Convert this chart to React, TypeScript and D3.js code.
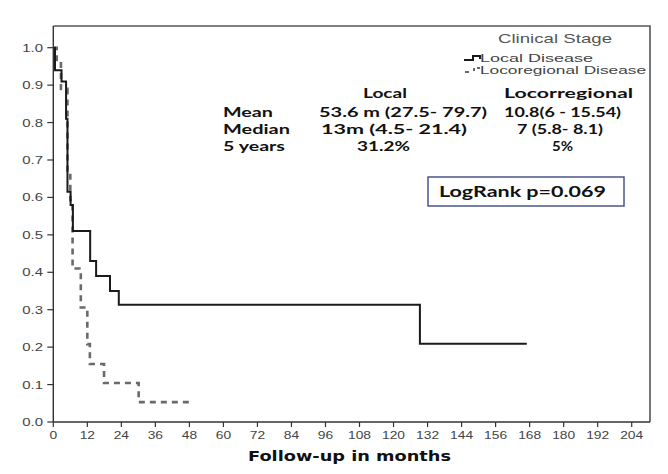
import React from "react";
import * as d3 from "d3";

// Kaplan-Meier curves (months, survival)
const localTimes = [0, 0.6, 2.9, 4.5, 5.0, 6.1, 6.9, 13.0, 15.1, 20.0, 23.1, 129.3, 167];
const localSurv = [1.0, 0.94, 0.91, 0.81, 0.615, 0.58, 0.51, 0.43, 0.39, 0.35, 0.313, 0.209, 0.209];
const locoTimes = [0, 1.2, 2.7, 5.0, 6.0, 6.8, 9.2, 9.7, 12.0, 12.9, 17.9, 30.1, 49.2];
const locoSurv = [1.0, 0.958, 0.89, 0.665, 0.593, 0.41, 0.4, 0.306, 0.208, 0.155, 0.104, 0.053, 0.053];

const xTicks = d3.range(0, 205, 12);
const yTicks = d3.range(0, 11).map((i) => i / 10);

const legendTitle = "Clinical Stage";
const seriesNames = ["Local Disease", "Locoregional Disease"];
const statHeaders = ["Local", "Locorregional"];
const statRows = ["Mean", "Median", "5 years"];
const statLocal = ["53.6 m (27.5- 79.7)", "13m (4.5- 21.4)", "31.2%"];
const statLoco = ["10.8(6 - 15.54)", "7 (5.8- 8.1)", "5%"];
const logRankText = "LogRank p=0.069";
const xTitle = "Follow-up in months";

const W = 668;
const H = 474;
const x = d3.scaleLinear().domain([0, 204]).range([53.3, 631.7]);
const y = d3.scaleLinear().domain([0, 1]).range([422, 47.7]);

type P = [number, number];
const line = d3
  .line<P>()
  .x((d) => x(d[0]))
  .y((d) => y(d[1]))
  .curve(d3.curveStepAfter);

const localPts: P[] = localTimes.map((t, i) => [t, localSurv[i]]);
const locoPts: P[] = locoTimes.map((t, i) => [t, locoSurv[i]]);

const statFont = "Lato, 'Open Sans', sans-serif";
const axFont = "'Liberation Sans', Arial, sans-serif";

export default function App() {
  const frameRight = 650;
  const frameTop = 26;
  const x0 = x(0);
  const yb = y(0);
  const rowY = [117, 134, 151];
  const localCol = [
    { x: 319, w: 168 },
    { x: 321, w: 146 },
    { x: 357, w: 53 },
  ];
  const locoCol = [
    { x: 504, w: 117 },
    { x: 517, w: 86 },
    { x: 552, w: 21 },
  ];
  const rowW = [50, 67, 62];
  return (
    <svg
      width={W}
      height={H}
      style={{ position: "absolute", left: 0, top: 0, background: "#fff" }}
    >
      <rect x={0} y={0} width={W} height={H} fill="#fff" />
      <path
        d={`M${x0},${frameTop}H${frameRight}V${yb}`}
        fill="none"
        stroke="#555"
        strokeWidth={1.6}
      />
      <line x1={x0} x2={x0} y1={frameTop} y2={yb} stroke="#333" strokeWidth={1.4} />
      <line x1={x0} x2={frameRight} y1={yb} y2={yb} stroke="#333" strokeWidth={1.4} />
      {yTicks.map((t) => (
        <g key={"y" + t}>
          <line x1={x0 - 6} x2={x0} y1={y(t)} y2={y(t)} stroke="#333" strokeWidth={1.2} />
          <text
            x={43}
            y={y(t) + 4}
            textAnchor="end"
            fontFamily={axFont}
            fontSize={11.5}
            fill="#444"
            transform="translate(43,0) scale(1.3,1) translate(-43,0)"
          >
            {t.toFixed(1)}
          </text>
        </g>
      ))}
      {xTicks.map((t) => (
        <g key={"x" + t}>
          <line x1={x(t)} x2={x(t)} y1={yb} y2={yb + 5} stroke="#333" strokeWidth={1.2} />
          <text
            x={x(t)}
            y={439.5}
            textAnchor="middle"
            fontFamily={axFont}
            fontSize={11.5}
            fill="#444"
            transform={`translate(${x(t)},0) scale(1.2,1) translate(${-x(t)},0)`}
          >
            {t}
          </text>
        </g>
      ))}
      <text
        x={248}
        y={461}
        fontFamily="'DejaVu Sans', Verdana, sans-serif"
        fontWeight="bold"
        fontSize={14}
        fill="#111"
        textLength={203}
        lengthAdjust="spacingAndGlyphs"
      >
        {xTitle}
      </text>

      <path
        d={line(locoPts) || ""}
        fill="none"
        stroke="#6a6a6a"
        strokeWidth={2.6}
        strokeDasharray="6,5"
      />
      <path d={line(localPts) || ""} fill="none" stroke="#1a1a1a" strokeWidth={2} />

      <text
        x={498}
        y={43}
        fontFamily={axFont}
        fontSize={13.5}
        fill="#555"
        textLength={114}
        lengthAdjust="spacingAndGlyphs"
      >
        {legendTitle}
      </text>
      <path d="M464,60H473V56H480V59" fill="none" stroke="#1a1a1a" strokeWidth={2} />
      <path d="M465,72H469M474,68V71M477,68H480" fill="none" stroke="#6a6a6a" strokeWidth={2} />
      <text
        x={480}
        y={62}
        fontFamily={axFont}
        fontSize={11.5}
        fill="#444"
        textLength={113}
        lengthAdjust="spacingAndGlyphs"
      >
        {seriesNames[0]}
      </text>
      <text
        x={480}
        y={74}
        fontFamily={axFont}
        fontSize={11.5}
        fill="#444"
        textLength={166}
        lengthAdjust="spacingAndGlyphs"
      >
        {seriesNames[1]}
      </text>

      <text x={363} y={98} fontFamily={statFont} fontWeight="bold" fontSize={14} fill="#111"
        textLength={44} lengthAdjust="spacingAndGlyphs">{statHeaders[0]}</text>
      <text x={504} y={98} fontFamily={statFont} fontWeight="bold" fontSize={14} fill="#111"
        textLength={129} lengthAdjust="spacingAndGlyphs">{statHeaders[1]}</text>
      {statRows.map((r, i) => (
        <g key={r}>
          <text x={223} y={rowY[i]} fontFamily={statFont} fontWeight="bold" fontSize={14} fill="#111"
            textLength={rowW[i]} lengthAdjust="spacingAndGlyphs">{r}</text>
          <text x={localCol[i].x} y={rowY[i]} fontFamily={statFont} fontWeight="bold" fontSize={14} fill="#111"
            textLength={localCol[i].w} lengthAdjust="spacingAndGlyphs">{statLocal[i]}</text>
          <text x={locoCol[i].x} y={rowY[i]} fontFamily={statFont} fontWeight="bold" fontSize={14} fill="#111"
            textLength={locoCol[i].w} lengthAdjust="spacingAndGlyphs">{statLoco[i]}</text>
        </g>
      ))}

      <rect x={428} y={177} width={196} height={29} fill="#fff" stroke="#4a5688" strokeWidth={1.5} />
      <text x={439} y={193.5} fontFamily={statFont} fontWeight="bold" fontSize={14.5} fill="#111"
        textLength={167} lengthAdjust="spacingAndGlyphs" dominantBaseline="middle">{logRankText}</text>
    </svg>
  );
}
